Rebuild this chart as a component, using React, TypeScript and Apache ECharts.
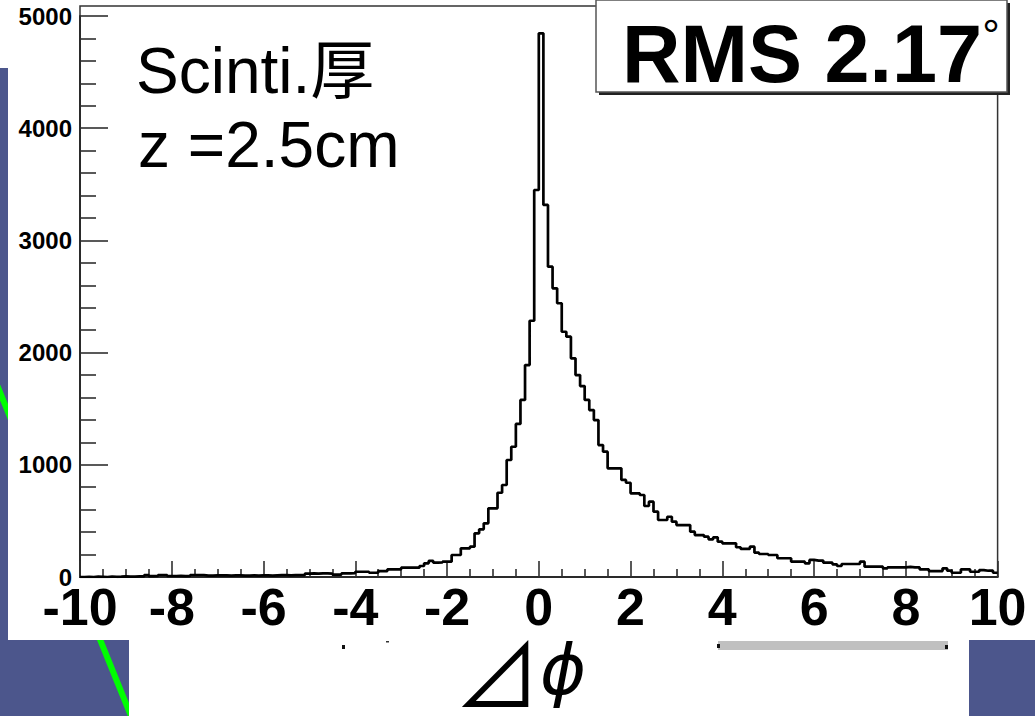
import React, { useEffect, useRef } from "react";
import * as echarts from "echarts";

// Histogram binning (200 bins of 0.1 from -10 to 10)
const X_MIN = -10;
const X_MAX = 10;
const BIN_WIDTH = 0.1;

// Counts for bins from -10.0 to 0.0 (10 bins per unit)
const countsNeg = [
  0, 2, 0, 3, 2, 0, 4, 2, 3, 5,
  3, 4, 6, 5, 18, 8, 9, 18, 18, 9,
  9, 10, 8, 10, 18, 18, 18, 12, 12, 14,
  14, 14, 13, 14, 14, 12, 13, 14, 12, 14,
  14, 13, 15, 16, 16, 15, 16, 17, 16, 30,
  33, 30, 33, 33, 30, 22, 22, 33, 33, 35,
  47, 47, 47, 38, 38, 53, 53, 68, 68, 68,
  83, 83, 83, 83, 98, 122, 143, 128, 130, 137,
  137, 196, 196, 256, 256, 270, 389, 425, 478, 612,
  612, 751, 820, 1043, 1161, 1364, 1578, 1889, 2284, 3449,
];

// Counts for bins from 0.0 to 10.0
const countsPos = [
  4846, 3316, 2766, 2573, 2440, 2186, 2142, 1949, 1800, 1702,
  1578, 1488, 1399, 1176, 1117, 969, 969, 969, 865, 840,
  746, 746, 731, 633, 671, 582, 508, 508, 537, 493,
  463, 463, 463, 404, 374, 374, 359, 336, 354, 315,
  300, 300, 300, 265, 250, 250, 270, 217, 205, 205,
  196, 196, 167, 167, 167, 137, 137, 137, 122, 152,
  146, 146, 128, 128, 113, 98, 116, 116, 116, 116,
  137, 92, 92, 92, 92, 77, 86, 86, 86, 86,
  90, 86, 86, 68, 68, 53, 53, 53, 77, 56,
  38, 38, 68, 68, 47, 47, 62, 56, 56, 38,
];

const Y_MIN = 0;
const Y_MAX = 5000;
const Y_INTERVAL = 1000;
const X_INTERVAL = 2;

const labelLine1 = "Scinti.厚";
const labelLine2 = "z =2.5cm";
const rmsText = "RMS 2.17";
const degText = "°";
const axisTitleTri = "⊿";
const axisTitlePhi = "ϕ";

const counts = [...countsNeg, ...countsPos];

export default function App() {
  const ref = useRef<HTMLDivElement>(null);

  useEffect(() => {
    if (!ref.current) return;
    const chart = echarts.init(ref.current, undefined, { renderer: "svg" });

    const stepData: [number, number][] = counts.map((c, i) => [
      +(X_MIN + i * BIN_WIDTH).toFixed(2),
      c,
    ]);
    stepData.push([X_MAX, counts[counts.length - 1]]);

    const W = 1035;
    const gridLeft = 80;
    const gridRight = 997.6;
    const gridTop = 16;
    const gridBottom = 577;
    const frameTop = 6;

    const font = "'Liberation Sans', Arial, Helvetica, sans-serif";

    chart.setOption({
      animation: false,
      backgroundColor: "#4c568c",
      grid: {
        left: gridLeft,
        right: W - gridRight,
        top: gridTop,
        bottom: 716 - gridBottom,
        containLabel: false,
      },
      xAxis: {
        type: "value",
        min: X_MIN,
        max: X_MAX,
        interval: X_INTERVAL,
        axisLine: { show: true, onZero: false, lineStyle: { color: "#111", width: 2 } },
        axisTick: { show: true, inside: true, length: 16, lineStyle: { color: "#222", width: 1.5 } },
        minorTick: { show: true, splitNumber: 4, length: 8, lineStyle: { color: "#222", width: 1.5 } },
        splitLine: { show: false },
        axisLabel: {
          show: true,
          margin: 8,
          color: "#000",
          fontFamily: font,
          fontWeight: "bold",
          fontSize: 52,
          lineHeight: 44,
          formatter: (v: number) => String(v),
        },
      },
      yAxis: {
        type: "value",
        min: Y_MIN,
        max: Y_MAX,
        interval: Y_INTERVAL,
        axisLine: { show: true, onZero: false, lineStyle: { color: "#111", width: 2 } },
        axisTick: { show: true, inside: true, length: 28, lineStyle: { color: "#222", width: 1.5 } },
        minorTick: { show: true, splitNumber: 5, length: 16, lineStyle: { color: "#222", width: 1.5 } },
        splitLine: { show: false },
        axisLabel: {
          show: true,
          margin: 8,
          color: "#000",
          fontFamily: font,
          fontWeight: "bold",
          fontSize: 24,
          formatter: (v: number) => String(v),
        },
      },
      series: [
        {
          type: "line",
          step: "end",
          data: stepData,
          showSymbol: false,
          symbol: "none",
          lineStyle: { color: "#000", width: 2.7 },
          z: 5,
        },
      ],
      graphic: [
        // slide background pieces
        {
          type: "line",
          z: -10,
          shape: { x1: -5, y1: 380, x2: 131, y2: 716 },
          style: { stroke: "#00ff00", lineWidth: 6 },
        },
        { type: "rect", z: -9, shape: { x: 8, y: 0, width: W - 8, height: 640 }, style: { fill: "#ffffff" } },
        { type: "rect", z: -9, shape: { x: 0, y: 0, width: 8, height: 68 }, style: { fill: "#ffffff" } },
        { type: "rect", z: -9, shape: { x: 129, y: 640, width: 840, height: 76 }, style: { fill: "#ffffff" } },
        { type: "rect", z: -8, shape: { x: 718, y: 641, width: 230, height: 9 }, style: { fill: "#c0c0c0" } },
        { type: "rect", z: -7, shape: { x: 717, y: 644, width: 3, height: 4 }, style: { fill: "#111" } },
        { type: "rect", z: -7, shape: { x: 945, y: 645, width: 3, height: 4 }, style: { fill: "#111" } },
        { type: "rect", z: -7, shape: { x: 342, y: 645, width: 3, height: 4 }, style: { fill: "#111" } },
        { type: "rect", z: -7, shape: { x: 386, y: 641, width: 3, height: 1.5 }, style: { fill: "#333" } },
        // frame
        {
          type: "rect",
          z: 1,
          shape: { x: gridLeft, y: frameTop, width: gridRight - gridLeft, height: gridBottom - frameTop },
          style: { fill: "none", stroke: "#333", lineWidth: 1.5 },
        },
        // RMS box with shadow
        {
          type: "rect",
          z: 20,
          shape: { x: 599, y: 3, width: 411, height: 92 },
          style: { fill: "#222" },
        },
        {
          type: "rect",
          z: 21,
          shape: { x: 596, y: 0, width: 411, height: 92 },
          style: { fill: "#fff", stroke: "#555", lineWidth: 1.5 },
        },
        {
          type: "text",
          z: 22,
          x: 802,
          y: 54,
          style: {
            text: rmsText,
            fill: "#000",
            font: `bold 81px ${font}`,
            align: "center",
            verticalAlign: "middle",
          },
        },
        {
          type: "text",
          z: 22,
          x: 991,
          y: 35,
          style: {
            text: degText,
            fill: "#000",
            font: `44px ${font}`,
            align: "center",
            verticalAlign: "middle",
          },
        },
        // annotation text
        {
          type: "text",
          z: 22,
          x: 136,
          y: 71,
          style: {
            text: labelLine1,
            fill: "#000",
            font: `64px 'Liberation Sans', 'Noto Sans CJK JP', sans-serif`,
            align: "left",
            verticalAlign: "middle",
          },
        },
        {
          type: "text",
          z: 22,
          x: 138,
          y: 145,
          style: {
            text: labelLine2,
            fill: "#000",
            font: `64px ${font}`,
            align: "left",
            verticalAlign: "middle",
          },
        },
        // x axis title
        {
          type: "text",
          z: 22,
          x: 520,
          y: 670,
          style: {
            text: `{t|${axisTitleTri}}{p|${axisTitlePhi}}`,
            align: "center",
            verticalAlign: "middle",
            rich: {
              t: { fontFamily: "'Noto Sans CJK JP'", fontSize: 86, lineHeight: 60, fill: "#000" },
              p: { fontFamily: "'DejaVu Sans'", fontStyle: "italic", fontSize: 70, lineHeight: 60, fill: "#000" },
            },
          },
        },
      ],
    });

    return () => chart.dispose();
  }, []);

  return (
    <div
      ref={ref}
      style={{ position: "fixed", left: 0, top: 0, width: 1035, height: 716 }}
    />
  );
}
